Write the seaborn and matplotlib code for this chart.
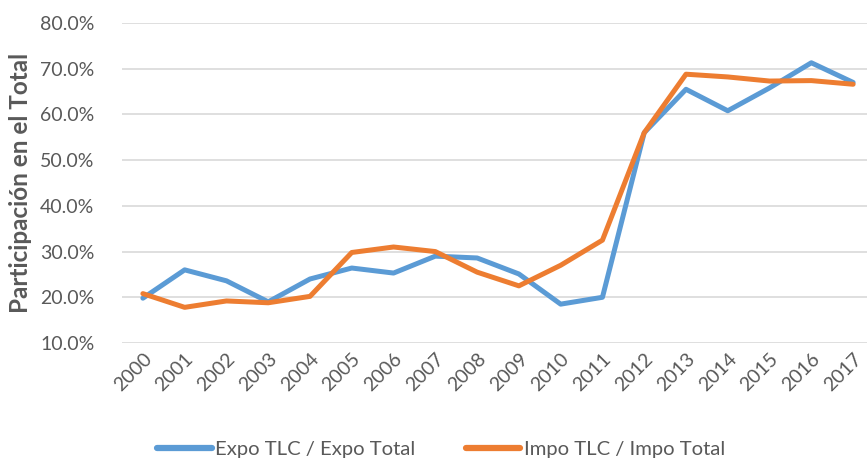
import numpy as np
import pandas as pd
import matplotlib
matplotlib.use("Agg")
import matplotlib.pyplot as plt
import matplotlib.ticker as mtick
import seaborn as sns

# -----------------------------
# Data
# -----------------------------
years = [str(y) for y in range(2000, 2018)]
expo = [19.8, 26.0, 23.6, 19.0, 24.0, 26.4, 25.3, 29.0, 28.6, 25.1,
        18.5, 20.0, 56.0, 65.5, 60.8, 65.8, 71.3, 67.0]
impo = [20.8, 17.8, 19.2, 18.8, 20.2, 29.8, 31.0, 30.0, 25.5, 22.5,
        27.0, 32.5, 56.0, 68.8, 68.2, 67.3, 67.4, 66.6]
series_names = ["Expo TLC / Expo Total", "Impo TLC / Impo Total"]
colors = ["#5B9BD5", "#ED7D31"]

df = pd.DataFrame({
    "year": years * 2,
    "value": np.array(expo + impo) / 100,
    "serie": [series_names[0]] * len(years) + [series_names[1]] * len(years),
})

# -----------------------------
# Style
# -----------------------------
sns.set_style("white")
plt.rcParams["font.family"] = ["Lato", "DejaVu Sans"]
text_col = "#595959"

fig = plt.figure(figsize=(8.67, 4.62), dpi=100)
ax = fig.add_axes([122 / 867, 1 - 343 / 462, 752 / 867, 320 / 462])

sns.lineplot(data=df, x="year", y="value", hue="serie", palette=colors,
             linewidth=3.6, ax=ax, sort=False)

ax.set_xlim(-0.5, len(years) - 0.5)
ax.set_ylim(0.10, 0.80)
ax.set_yticks(np.arange(0.10, 0.81, 0.10))
ax.yaxis.set_major_formatter(mtick.PercentFormatter(1.0, decimals=1))
ax.yaxis.grid(True, color="#D9D9D9", linewidth=1.2)
ax.set_axisbelow(True)
for s in ax.spines.values():
    s.set_visible(False)

ax.tick_params(axis="both", length=0, colors=text_col, labelsize=14)
ax.tick_params(axis="y", pad=20)
for lbl in ax.get_xticklabels():
    lbl.set_rotation(45)
    lbl.set_ha("right")
    lbl.set_rotation_mode("anchor")
ax.tick_params(axis="x", pad=5)

ax.set_xlabel("")
ax.set_ylabel("Participación en el Total", fontsize=17.5, fontweight="bold",
              color=text_col, labelpad=6)

ax.legend(loc="center left", bbox_to_anchor=(157 / 867, 1 - 449 / 462),
          bbox_transform=fig.transFigure, borderaxespad=0, borderpad=0,
          ncol=2, frameon=False, fontsize=14.6, handlelength=2.7,
          handletextpad=0.15, columnspacing=2.5, labelcolor=text_col)
for line in ax.get_legend().get_lines():
    line.set_linewidth(4.5)
    line.set_solid_capstyle("round")

fig.savefig("out.png", dpi=100)
